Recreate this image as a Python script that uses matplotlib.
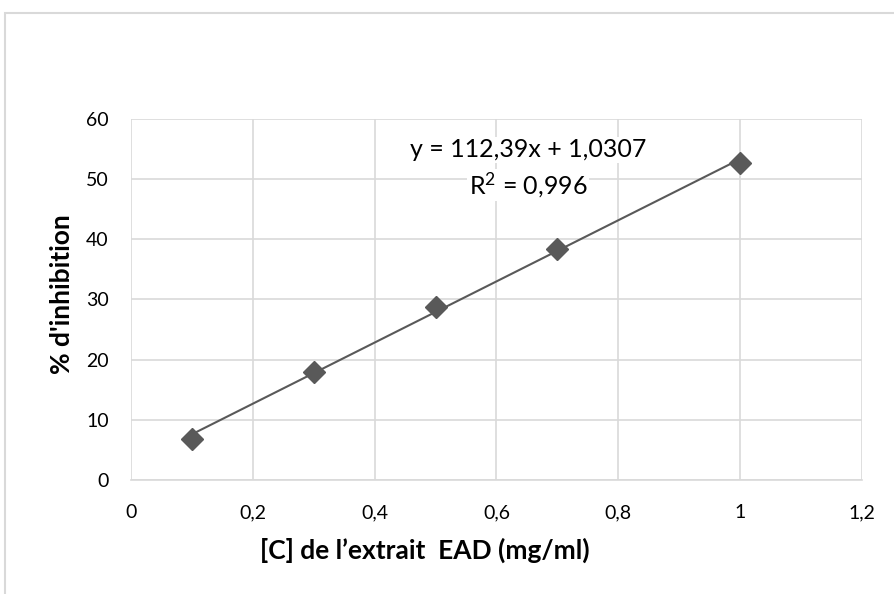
import matplotlib
matplotlib.use("Agg")
import matplotlib.pyplot as plt
import numpy as np
from matplotlib.patches import Rectangle

# Data
conc = [0.1, 0.3, 0.5, 0.7, 1.0]
inhibition = [6.85, 18.0, 28.8, 38.4, 52.6]
x_ticks = [0, 0.2, 0.4, 0.6, 0.8, 1.0, 1.2]
x_tick_labels = ["0", "0,2", "0,4", "0,6", "0,8", "1", "1,2"]
y_ticks = [0, 10, 20, 30, 40, 50, 60]
y_tick_labels = ["0", "10", "20", "30", "40", "50", "60"]
eq_text = "y = 112,39x + 1,0307"
r2_text = "R$^2$ = 0,996"
x_label = "[C] de l\u2019extrait  EAD (mg/ml)"
y_label = "% d'inhibition"

plt.rcParams['font.family'] = ['Lato', 'DejaVu Sans']
plt.rcParams['mathtext.default'] = 'regular'

fig = plt.figure(figsize=(8.95, 5.94), dpi=100)
fig.patches.append(Rectangle((5/895, -0.1), 1.2, 1 - 13/594 + 0.1, transform=fig.transFigure,
                             fill=False, edgecolor='#d9d9d9', linewidth=1.5))
ax = fig.add_axes([131/895, 1 - 480.3/594, 731/895, (480.3-118.5)/594])

ax.set_xlim(0, 1.2)
ax.set_ylim(0, 60)
ax.set_xticks(x_ticks)
ax.set_xticklabels(x_tick_labels)
ax.set_yticks(y_ticks)
ax.set_yticklabels(y_tick_labels)
ax.grid(True, color='#d9d9d9', linewidth=1.2)
ax.set_axisbelow(True)
for s in ['top', 'right', 'left']:
    ax.spines[s].set_visible(False)
ax.spines['bottom'].set_color('#d9d9d9')
ax.spines['bottom'].set_linewidth(1.2)
ax.tick_params(length=0, labelsize=14, colors='#000000')
ax.tick_params(axis='x', pad=17)
ax.tick_params(axis='y', pad=16)

# trendline fit through data
coef = np.polyfit(conc, inhibition, 1)
xs = np.array([min(conc), max(conc)])
ax.plot(xs, np.polyval(coef, xs), color='#595959', linewidth=1.5, zorder=2)
ax.plot(conc, inhibition, linestyle='none', marker='D', markersize=11,
        color='#595959', zorder=3)

ax.text(0.652, 54.8, eq_text, ha='center', va='center', fontsize=18, zorder=4,
        bbox=dict(facecolor='white', edgecolor='none', pad=1))
ax.text(0.652, 49.0, r2_text, ha='center', va='center', fontsize=18, zorder=4,
        bbox=dict(facecolor='white', edgecolor='none', pad=1))

fig.text(425/895, 1 - 550/594, x_label, ha='center', va='center', fontsize=19, fontweight='bold')
fig.text(62/895, 1 - 294/594, y_label, ha='center', va='center', fontsize=19, fontweight='bold',
         rotation=90)

fig.savefig("out.png", dpi=100)
